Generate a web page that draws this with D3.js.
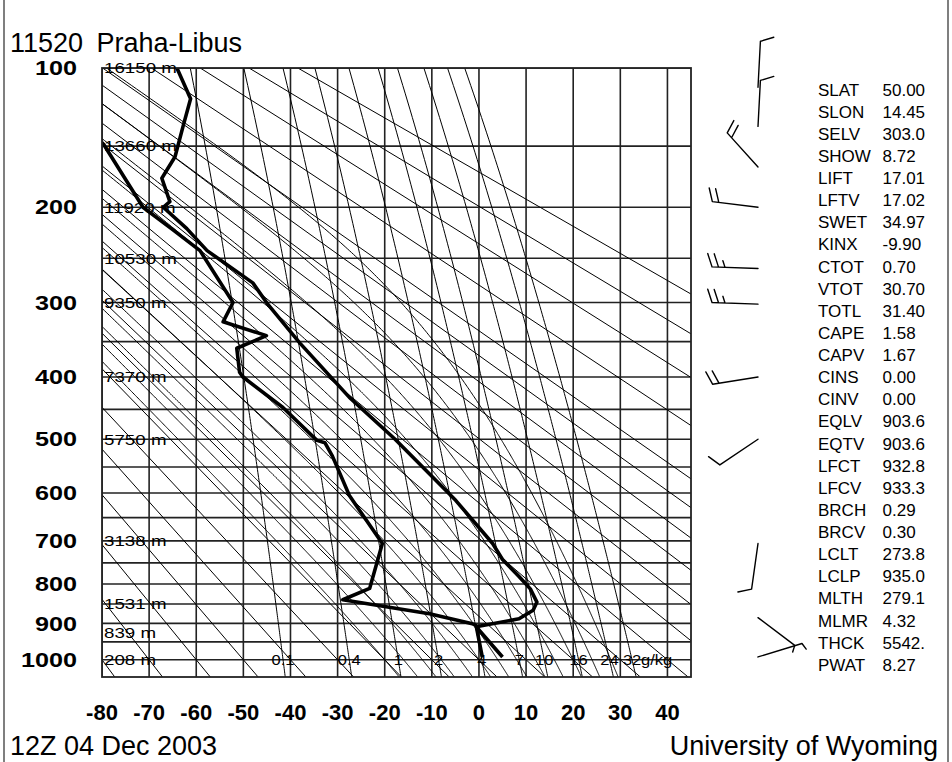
<!DOCTYPE html>
<html>
<head>
<meta charset="utf-8">
<script src="https://cdn.jsdelivr.net/npm/d3@7"></script>
<style>
  body { margin: 0; background: #fff; }
  svg { display: block; }
  text { font-family: "Liberation Sans", Arial, sans-serif; fill: #000; }
</style>
</head>
<body>
<svg id="chart" width="952" height="762"></svg>
<script>
var stationId = '11520',
    stationName = 'Praha-Libus',
    obsTime = '12Z 04 Dec 2003',
    source = 'University of Wyoming';

// sounding (hPa, degC)
var tempPres = [992, 909, 888, 866, 845, 812, 782, 742, 706, 615, 500, 431, 352, 303, 277, 242, 220, 200, 195, 175, 158, 136, 118, 100];
var tempVals = [5.0, -0.6, 8.5, 11.5, 12.3, 10.9, 8.5, 5.0, 2.9, -4.9, -17.8, -27.5, -38.0, -44.7, -48.0, -57.7, -62.0, -67.0, -65.6, -67.3, -64.5, -62.8, -61.2, -64.1];
var dewPres = [992, 906, 901, 875, 839, 811, 706, 605, 530, 506, 502, 447, 400, 393, 359, 342, 324, 300, 242, 221, 200, 149, 140];
var dewVals = [0.7, -0.6, -1.4, -10.5, -28.9, -23.2, -20.5, -27.5, -31.1, -32.7, -34.4, -41.6, -50.1, -50.8, -51.4, -45.1, -54.3, -52.2, -59.2, -65.0, -71.3, -79.6, -82.0];

// winds (hPa, deg, knots)
var windPres = [111, 136, 166, 200, 261, 302, 400, 500, 706, 885, 992];
var windDir = [3, 3, 318, 277, 272, 272, 261, 236, 188, 127, 73];
var windSpd = [10, 10, 20, 20, 25, 25, 20, 10, 10, 5, 5];

// standard level heights
var heightPres = [100, 150, 200, 250, 300, 400, 500, 700, 850, 925, 1000];
var heightVals = ['16150', '13660', '11920', '10530', '9350', '7370', '5750', '3138', '1531', '839', '208'];

// background lines
var isotherms = [-80, -70, -60, -50, -40, -30, -20, -10, 0, 10, 20, 30, 40];
var isobars = [100, 150, 200, 250, 300, 350, 400, 450, 500, 550, 600, 650, 700, 750, 800, 850, 900, 950, 1000];
var pressLabels = [100, 200, 300, 400, 500, 600, 700, 800, 900, 1000];
var dryThetas = [-80, -70, -60, -50, -40, -30, -20, -10, 0, 10, 20, 30, 40, 50, 60, 70, 80, 90, 100, 120, 140, 160, 180];
var moistThetas = [-20, -16, -12, -8, -4, 0, 4, 8, 12, 16, 20, 24, 28];
var mixRatios = [0.1, 0.4, 1, 2, 4, 7, 10, 16, 24, 32];
var mixLabels = ['0.1', '0.4', '1', '2', '4', '7', '10', '16', '24', '32'];

// station indices
var indexNames = ['SLAT', 'SLON', 'SELV', 'SHOW', 'LIFT', 'LFTV', 'SWET', 'KINX', 'CTOT', 'VTOT', 'TOTL', 'CAPE', 'CAPV', 'CINS', 'CINV', 'EQLV', 'EQTV', 'LFCT', 'LFCV', 'BRCH', 'BRCV', 'LCLT', 'LCLP', 'MLTH', 'MLMR', 'THCK', 'PWAT'];
var indexVals = ['50.00', '14.45', '303.0', '8.72', '17.01', '17.02', '34.97', '-9.90', '0.70', '30.70', '31.40', '1.58', '1.67', '0.00', '0.00', '903.6', '903.6', '932.8', '933.3', '0.29', '0.30', '273.8', '935.0', '279.1', '4.32', '5542.', '8.27'];

var K = 0.2857;
var svg = d3.select('#chart');

var x = d3.scaleLinear().domain([-80, 45]).range([102, 691]);
var y = d3.scalePow().exponent(K).domain([100, 1050]).range([68, 677]);

var plotL = x.range()[0], plotR = x.range()[1],
    plotT = y.range()[0], plotB = y.range()[1];

svg.append('clipPath').attr('id', 'plotClip')
    .append('rect')
    .attr('x', plotL).attr('y', plotT)
    .attr('width', plotR - plotL).attr('height', plotB - plotT);

// outer border of the picture
svg.append('line').attr('x1', 4).attr('x2', 4).attr('y1', 0).attr('y2', 762)
    .attr('stroke', '#555').attr('stroke-width', 1.5);
svg.append('line').attr('x1', 948).attr('x2', 948).attr('y1', 0).attr('y2', 762)
    .attr('stroke', '#555').attr('stroke-width', 1.5);

var plot = svg.append('g').attr('clip-path', 'url(#plotClip)');

// pressure levels used for the background curves
var levels = [];
for (var lp = 1050; lp >= 100; lp -= 5) levels.push(lp);

var curve = d3.line()
    .x(function (d) { return x(d[1]); })
    .y(function (d) { return y(d[0]); });

function satVap(tc) {
    return 6.112 * Math.exp(17.67 * tc / (tc + 243.5));
}

function dewFromVap(e) {
    var g = Math.log(e / 6.112);
    return 243.5 * g / (17.67 - g);
}

function moistLapse(p, tk) {
    var es = satVap(tk - 273.15),
        rs = 0.622 * es / (p - es),
        num = 287.04 * tk + 2.501e6 * rs,
        den = 1005.7 + 2.501e6 * 2.501e6 * rs * 0.622 / (287.04 * tk * tk);
    return num / (den * p);
}

function moistAdiabat(thw) {
    var pts = [], tk, p, dp = 2, k1, k2;
    tk = thw + 273.15;
    for (p = 1000; p <= 1050; p += dp) {
        pts.push([p, tk - 273.15]);
        k1 = moistLapse(p, tk);
        k2 = moistLapse(p + dp, tk + k1 * dp);
        tk += 0.5 * (k1 + k2) * dp;
    }
    pts.reverse();
    tk = thw + 273.15;
    for (p = 1000; p > 100; p -= dp) {
        k1 = moistLapse(p, tk);
        k2 = moistLapse(p - dp, tk - k1 * dp);
        tk -= 0.5 * (k1 + k2) * dp;
        pts.push([p - dp, tk - 273.15]);
    }
    return pts;
}

// isobars
plot.selectAll('.isobar').data(isobars).enter().append('line')
    .attr('class', 'isobar')
    .attr('x1', plotL).attr('x2', plotR)
    .attr('y1', function (d) { return y(d); })
    .attr('y2', function (d) { return y(d); })
    .attr('stroke', '#222').attr('stroke-width', 1.6);

// isotherms
plot.selectAll('.isotherm').data(isotherms).enter().append('line')
    .attr('class', 'isotherm')
    .attr('x1', function (d) { return x(d); })
    .attr('x2', function (d) { return x(d); })
    .attr('y1', plotT).attr('y2', plotB)
    .attr('stroke', '#222').attr('stroke-width', 1.6);

// dry adiabats
plot.selectAll('.dry').data(dryThetas).enter().append('path')
    .attr('class', 'dry')
    .attr('d', function (th) {
        return curve([100, 1050].map(function (p) {
            return [p, (th + 273.15) * Math.pow(p / 1000, K) - 273.15];
        }));
    })
    .attr('fill', 'none').attr('stroke', '#000').attr('stroke-width', 1);

// moist adiabats
plot.selectAll('.moist').data(moistThetas).enter().append('path')
    .attr('class', 'moist')
    .attr('d', function (th) { return curve(moistAdiabat(th)); })
    .attr('fill', 'none').attr('stroke', '#000').attr('stroke-width', 1);

// mixing ratio lines
plot.selectAll('.mix').data(mixRatios).enter().append('path')
    .attr('class', 'mix')
    .attr('d', function (w) {
        return curve(levels.map(function (p) {
            return [p, dewFromVap(w * p / (622 + w))];
        }));
    })
    .attr('fill', 'none').attr('stroke', '#000').attr('stroke-width', 1);

// frame
svg.append('rect')
    .attr('x', plotL).attr('y', plotT)
    .attr('width', plotR - plotL).attr('height', plotB - plotT)
    .attr('fill', 'none').attr('stroke', '#222').attr('stroke-width', 1.8);

function stretched(g, txt, px, py, size, sx, anchor, weight) {
    return g.append('text')
        .attr('transform', 'translate(' + px + ',' + py + ') scale(' + sx + ',1)')
        .attr('text-anchor', anchor || 'start')
        .attr('font-size', size)
        .attr('font-weight', weight || 'normal')
        .text(txt);
}

// height labels
heightPres.forEach(function (p, i) {
    stretched(svg, heightVals[i] + ' m', 104, y(p) + 5.3, 15, 1.25);
});

// mixing ratio labels along 1000 hPa
mixRatios.forEach(function (w, i) {
    var xm = x(dewFromVap(w * 1000 / (622 + w)));
    stretched(svg, mixLabels[i], xm, y(1000) + 5.3, 15, 1.1, 'middle');
    if (i === mixRatios.length - 1) {
        stretched(svg, 'g/kg', xm + 9, y(1000) + 5.3, 15, 1.1);
    }
});

// sounding
var tempLine = tempPres.map(function (p, i) { return [p, tempVals[i]]; });
var dewLine = dewPres.map(function (p, i) { return [p, dewVals[i]]; });

plot.append('path').attr('d', curve(tempLine))
    .attr('fill', 'none').attr('stroke', '#000')
    .attr('stroke-width', 3.6).attr('stroke-linejoin', 'round');
plot.append('path').attr('d', curve(dewLine))
    .attr('fill', 'none').attr('stroke', '#000')
    .attr('stroke-width', 3.6).attr('stroke-linejoin', 'round');

// pressure axis
pressLabels.forEach(function (p) {
    stretched(svg, p, 77, y(p) + 7.2, 20, 1.26, 'end', 'bold');
});

// temperature axis
isotherms.forEach(function (t) {
    stretched(svg, t, x(t), 720, 22, 1, 'middle', 'bold');
});

// titles
svg.append('text').attr('x', 10).attr('y', 52).attr('font-size', 27).text(stationId);
svg.append('text').attr('x', 96.5).attr('y', 52).attr('font-size', 27).text(stationName);
svg.append('text').attr('x', 10).attr('y', 755).attr('font-size', 27).text(obsTime);
svg.append('text').attr('x', 938).attr('y', 755).attr('font-size', 27)
    .attr('text-anchor', 'end').text(source);

// station indices
var idx = svg.append('g');
indexNames.forEach(function (name, i) {
    var ty = 95.5 + i * 22.13;
    idx.append('text').attr('x', 818).attr('y', ty).attr('font-size', 17).text(name);
    idx.append('text').attr('x', 882.5).attr('y', ty).attr('font-size', 17).text(indexVals[i]);
});

// wind barbs
var barbs = svg.append('g')
    .attr('stroke', '#000').attr('stroke-width', 1.4)
    .attr('fill', 'none').attr('stroke-linecap', 'round');

function drawBarb(bx, by, dir, spd) {
    var rad = dir * Math.PI / 180,
        ux = Math.sin(rad), uy = -Math.cos(rad),
        nx = -uy, ny = ux,
        len = 46,
        tx = bx + ux * len, ty = by + uy * len,
        path = d3.path(),
        full = Math.floor(spd / 10),
        half = spd % 10 >= 5,
        pos = 0, i, px, py;

    path.moveTo(bx, by);
    path.lineTo(tx, ty);
    for (i = 0; i < full; i++) {
        px = tx - ux * pos; py = ty - uy * pos;
        path.moveTo(px, py);
        path.lineTo(px + 14 * (0.94 * nx + 0.34 * ux), py + 14 * (0.94 * ny + 0.34 * uy));
        pos += 6.5;
    }
    if (half) {
        px = tx - ux * pos; py = ty - uy * pos;
        path.moveTo(px, py);
        path.lineTo(px + 7 * (0.94 * nx + 0.34 * ux), py + 7 * (0.94 * ny + 0.34 * uy));
    }
    barbs.append('path').attr('d', path.toString());
}

windPres.forEach(function (p, i) {
    drawBarb(758, y(p), windDir[i], windSpd[i]);
});
</script>
</body>
</html>
